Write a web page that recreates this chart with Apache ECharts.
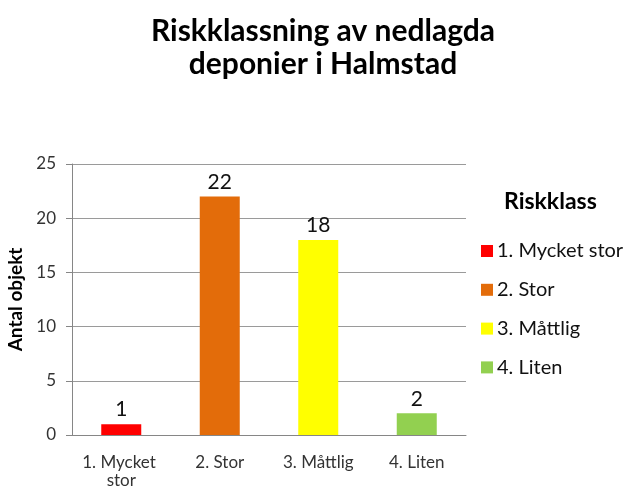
<!DOCTYPE html>
<html><head><meta charset="utf-8">
<script src="https://cdn.jsdelivr.net/npm/echarts@6/dist/echarts.min.js"></script>
<style>html,body{margin:0;padding:0;background:#fff}#c{width:636px;height:488px}</style>
</head><body><div id="c"></div>
<script>
var categories = ['1. Mycket stor', '2. Stor', '3. Måttlig', '4. Liten'];
var values = [1, 22, 18, 2];
var colors = ['#FF0000', '#E36C0A', '#FFFF00', '#92D050'];
var yTicks = [0, 5, 10, 15, 20, 25];
var titleText = 'Riskklassning av nedlagda\ndeponier i Halmstad';
var legendTitle = 'Riskklass';
var yName = 'Antal objekt';

var FONT = 'Lato';
var series = categories.map(function (c, i) {
  return {
    name: c, type: 'bar', barWidth: 40, barGap: '-100%',
    itemStyle: { color: colors[i] },
    label: { show: true, position: 'top', distance: 4, fontSize: 21, color: '#111', fontFamily: FONT },
    data: values.map(function (v, j) { return j === i ? v : null; })
  };
});

var chart = echarts.init(document.getElementById('c'));
chart.setOption({
  animation: false,
  textStyle: { fontFamily: FONT },
  title: [{
    text: titleText, left: 318, textAlign: 'center', top: 10,
    textStyle: { fontFamily: FONT, fontWeight: 'bold', fontSize: 30, lineHeight: 33, color: '#000' }
  }, {
    text: legendTitle, left: 499, top: 185,
    textStyle: { fontFamily: FONT, fontWeight: 'bold', fontSize: 23, color: '#000' }
  }],
  legend: {
    orient: 'vertical', left: 476, top: 236, itemWidth: 12, itemHeight: 12, itemGap: 18.8,
    icon: 'rect', selectedMode: false,
    textStyle: { fontFamily: FONT, fontSize: 20, color: '#111', padding: [0, 0, 0, -1] },
    data: categories
  },
  grid: { left: 72, right: 170, top: 164, bottom: 53, containLabel: false, outerBoundsMode: 'none' },
  xAxis: {
    type: 'category', data: categories,
    axisLine: { lineStyle: { color: '#868686' } },
    axisTick: { show: false },
    axisLabel: { interval: 0, fontSize: 17, color: '#333', width: 88, overflow: 'break', lineHeight: 18, margin: 19, fontFamily: FONT }
  },
  yAxis: {
    type: 'value', min: yTicks[0], max: yTicks[yTicks.length - 1], interval: 5,
    name: yName, nameLocation: 'middle', nameGap: 47,
    nameTextStyle: { fontFamily: FONT, fontWeight: 'bold', fontSize: 19, color: '#000' },
    axisLine: { show: true, lineStyle: { color: '#868686' } },
    axisTick: { show: true, length: 6, lineStyle: { color: '#868686' } },
    splitLine: { lineStyle: { color: '#9a9a9a' } },
    axisLabel: { fontSize: 17, color: '#333', margin: 16, fontFamily: FONT }
  },
  series: series
});
</script></body></html>
